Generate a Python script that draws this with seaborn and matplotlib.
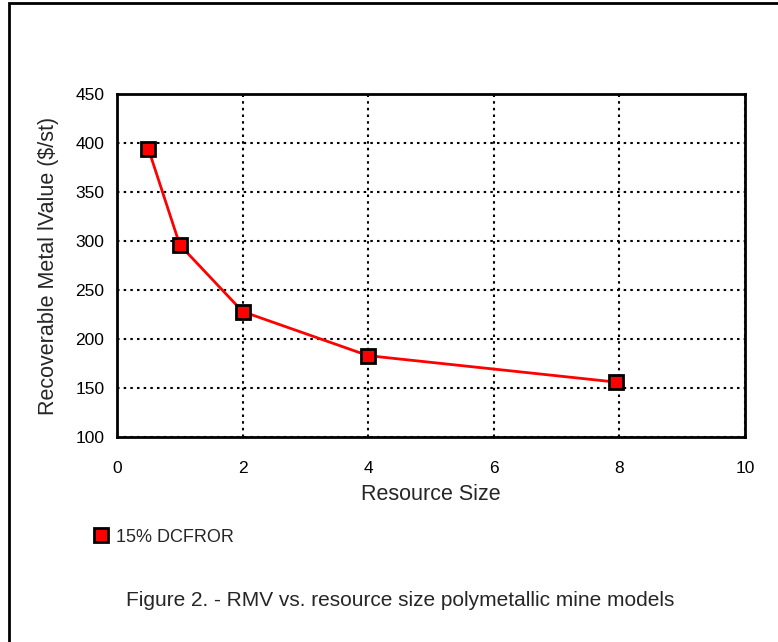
import pandas as pd
import matplotlib.pyplot as plt
import seaborn as sns
from matplotlib.patches import Rectangle

# values
resource_size = [0.5, 1, 2, 4, 7.95]
rmv = [394, 296, 228, 183, 156]
series_name = "15% DCFROR"
x_ticks = [0, 2, 4, 6, 8, 10]
y_ticks = [100, 150, 200, 250, 300, 350, 400, 450]

df = pd.DataFrame({"Resource Size": resource_size, "RMV": rmv, "Series": series_name})

sns.set_style("white")
plt.rcParams['font.family'] = ['Liberation Sans', 'DejaVu Sans']

fig = plt.figure(figsize=(7.78, 6.42), dpi=100)
ax = fig.add_axes([117 / 778, 1 - 437 / 642, 628 / 778, 343 / 642])

sns.lineplot(data=df, x="Resource Size", y="RMV", hue="Series", palette=["red"],
             marker="s", markersize=10, markerfacecolor="red", markeredgecolor="black",
             markeredgewidth=2, linewidth=2, ax=ax, legend=False)

ax.set_xlim(0, 10)
ax.set_ylim(100, 450)
ax.set_xticks(x_ticks)
ax.set_yticks(y_ticks)
ax.grid(True, color="black", linestyle=(0, (1.2, 2)), linewidth=1.5)
ax.tick_params(direction="in", length=5, width=1.5, labelsize=12.5, colors="black")
ax.tick_params(axis="x", pad=17)
ax.tick_params(axis="y", pad=9)
for s in ax.spines.values():
    s.set_color("black")
    s.set_linewidth(2)
ax.set_xlabel("Resource Size", fontsize=15.5, labelpad=6)
ax.set_ylabel("Recoverable Metal lValue ($/st)", fontsize=15.5, labelpad=12)

# legend below the chart
handle = plt.Line2D([], [], color="red", marker="s", markersize=10, markerfacecolor="red",
                    markeredgecolor="black", markeredgewidth=2, linewidth=0)
fig.legend([handle], [series_name], loc="center left", bbox_to_anchor=(76 / 778, 1 - 537 / 642),
           frameon=False, fontsize=13, handlelength=1.0, handletextpad=0.3)

fig.text(400 / 778, 1 - 600 / 642, "Figure 2. - RMV vs. resource size polymetallic mine models",
         ha="center", va="center", fontsize=15)

# outer frame
fig.patches.append(Rectangle((9 / 778, -0.1), 1.2, 1 - 3 / 642 + 0.1, transform=fig.transFigure,
                             fill=False, edgecolor="black", linewidth=2))

fig.savefig("out.png", dpi=100)
